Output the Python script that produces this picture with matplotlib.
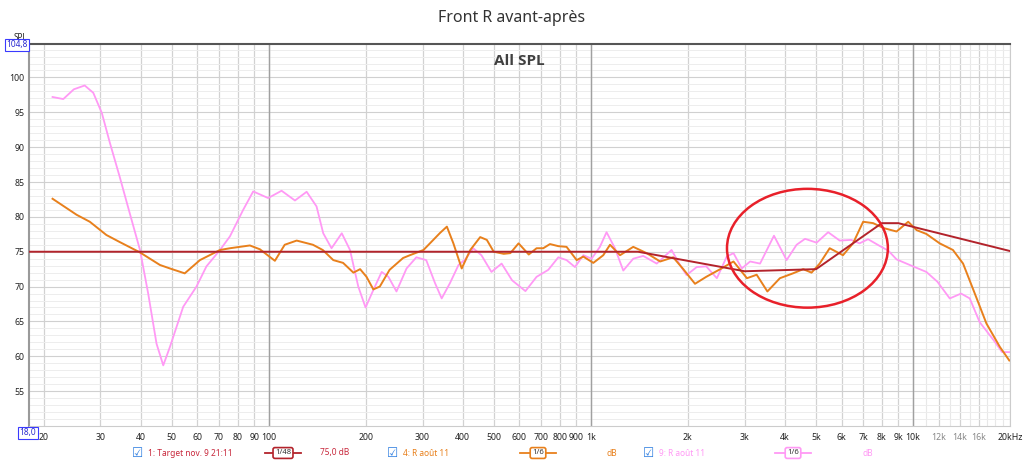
import matplotlib
matplotlib.use("Agg")
import matplotlib.pyplot as plt
from matplotlib.patches import Ellipse
from matplotlib.lines import Line2D

plt.rcParams['font.family'] = ['Noto Sans', 'DejaVu Sans']

# target curve (Hz, dB)
target_f = [18, 1400, 3000, 5000, 8000, 9000, 20000]
target_db = [75.0, 75.0, 72.2, 72.5, 79.1, 79.1, 75.1]

# R août 11, 1/6 smoothing (orange)
orange_f = [21.3, 25.3, 27.8, 31.3, 34.4, 39.8, 45.9, 49.3, 54.8, 61.1, 70.5, 75.7, 87.3, 93.8,
            104.4, 112, 122, 137, 147, 158.5, 170, 183, 192, 201, 211, 221, 237, 261, 274, 302,
            324, 340, 357, 374, 397, 422, 453, 475, 499, 536, 562, 596, 641, 678, 711, 746, 792,
            840, 903, 947, 1017, 1092, 1146, 1231, 1353, 1489, 1640, 1800, 1935, 2104, 2280,
            2520, 2770, 3050, 3270, 3530, 3860, 4240, 4560, 4840, 5130, 5510, 6060, 6510, 7000,
            7520, 8090, 8890, 9660, 10260, 11000, 12100, 13300, 14300, 15400, 16900, 18600, 19900]
orange_db = [82.6, 80.3, 79.3, 77.4, 76.4, 74.9, 73.1, 72.6, 71.9, 73.8, 75.25, 75.5, 75.9, 75.35,
             73.7, 76.0, 76.6, 76.0, 75.25, 73.8, 73.4, 72.0, 72.5, 71.4, 69.6, 70.0, 72.4, 74.1,
             74.5, 75.25, 76.7, 77.7, 78.6, 76.2, 72.6, 75.25, 77.1, 76.7, 75.0, 74.7, 74.8, 76.2,
             74.6, 75.5, 75.5, 76.1, 75.8, 75.7, 73.8, 74.3, 73.4, 74.5, 76.0, 74.5, 75.7, 74.8,
             73.6, 74.2, 72.5, 70.4, 71.4, 72.5, 73.6, 71.2, 71.7, 69.3, 71.2, 71.9, 72.5, 72.0,
             73.3, 75.5, 74.5, 76.2, 79.3, 79.1, 78.4, 77.9, 79.3, 78.1, 77.55, 76.2, 75.25, 73.3,
             69.5, 64.7, 61.35, 59.4]

# R août 11, 1/6 smoothing (pink)
pink_f = [21.3, 23.0, 24.8, 26.8, 28.5, 30.3, 32.1, 34.4, 37.0, 39.8, 42.2, 44.8, 47.0, 49.3,
          54.2, 59.6, 64.0, 70.5, 75.7, 83.2, 89.4, 99.5, 109.5, 120.5, 131, 140.6, 147.5, 156.5,
          168.4, 178.6, 189.5, 199.6, 211, 224, 235, 249, 267.6, 287, 308, 328, 344, 365, 388,
          407, 431, 457, 491, 528, 569, 626, 678, 737, 792, 840, 892, 947, 1005, 1066, 1118,
          1187, 1260, 1353, 1453, 1600, 1779, 1890, 1980, 2130, 2280, 2460, 2640, 2770, 2940,
          3120, 3350, 3700, 4050, 4350, 4620, 5020, 5450, 5920, 6430, 6820, 7250, 7900, 8380,
          8890, 10000, 11000, 11900, 13000, 14100, 15000, 16100, 17800, 18900, 19900]
pink_db = [97.2, 96.9, 98.3, 98.85, 97.8, 94.9, 90.6, 85.8, 80.5, 75.25, 69.0, 61.8, 58.7, 61.35,
           67.1, 70.0, 72.9, 75.25, 77.2, 81.0, 83.65, 82.7, 83.75, 82.35, 83.6, 81.5, 77.65,
           75.5, 77.65, 75.25, 70.0, 67.0, 69.5, 72.1, 71.4, 69.3, 72.6, 74.2, 73.8, 70.5, 68.3,
           70.5, 73.1, 73.9, 75.5, 74.5, 72.1, 73.3, 70.9, 69.35, 71.4, 72.4, 74.2, 73.8, 72.8,
           74.5, 74.0, 75.7, 77.8, 75.5, 72.3, 74.0, 74.4, 73.3, 75.25, 73.1, 71.65, 72.8, 72.9,
           71.2, 74.3, 74.8, 72.6, 73.6, 73.3, 77.3, 73.8, 76.0, 76.85, 76.3, 77.8, 76.6, 76.7,
           76.2, 76.8, 75.8, 75.15, 73.9, 72.9, 72.1, 70.7, 68.3, 69.0, 68.3, 64.9, 62.3, 60.6, 60.6]

xtick_pos = [20, 30, 40, 50, 60, 70, 80, 90, 100, 200, 300, 400, 500, 600, 700, 800, 900,
             1000, 2000, 3000, 4000, 5000, 6000, 7000, 8000, 9000, 10000, 12000, 14000, 16000, 20000]
xtick_lab = ['20', '30', '40', '50', '60', '70', '80', '90', '100', '200', '300', '400', '500',
             '600', '700', '800', '900', '1k', '2k', '3k', '4k', '5k', '6k', '7k', '8k', '9k',
             '10k', '12k', '14k', '16k', '20kHz']
xminor = [11000, 13000, 15000, 17000, 18000, 19000]
ytick_pos = [55, 60, 65, 70, 75, 80, 85, 90, 95, 100]

c_target = '#b3232b'
c_orange = '#e8801c'
c_pink = '#ff99f5'
c_txt_target = '#c8283c'

fig = plt.figure(figsize=(10.24, 4.62), dpi=100)
ax = fig.add_axes([29 / 1024, 1 - 426 / 462, 981 / 1024, 382 / 462])
ax.set_xscale('log')
ax.set_xlim(18, 20000)
ax.set_ylim(50, 104.8)

ax.set_xticks(xtick_pos, xtick_lab)
ax.set_xticks(xminor, minor=True)
ax.set_xticklabels([], minor=True)
ax.set_yticks(ytick_pos)
ax.set_yticks(range(51, 105), minor=True)
ax.tick_params(which='both', length=0, labelsize=6.3, colors='#222222')
ax.tick_params(axis='x', pad=5)
ax.tick_params(axis='y', pad=3)
for lab in ax.get_xticklabels():
    if lab.get_text() in ('12k', '14k', '16k'):
        lab.set_color('#888888')

ax.grid(which='major', axis='x', color='#d2d2d2', lw=0.9)
ax.grid(which='minor', axis='x', color='#e8e8e8', lw=0.8)
ax.grid(which='major', axis='y', color='#d0d0d0', lw=0.8)
ax.grid(which='minor', axis='y', color='#ededed', lw=0.7)
for d in (100, 1000, 10000):
    ax.axvline(d, color='#a0a0a0', lw=1.0, zorder=1)
ax.set_axisbelow(True)

for s in ('bottom', 'right'):
    ax.spines[s].set_color('#cccccc')
ax.spines['left'].set_color('#9a9a9a')
ax.spines['left'].set_linewidth(1.5)
ax.spines['top'].set_color('#555555')
ax.spines['top'].set_linewidth(1.5)

ax.plot(pink_f, pink_db, color=c_pink, lw=1.3, zorder=3)
ax.plot(orange_f, orange_db, color=c_orange, lw=1.4, zorder=4)
ax.plot(target_f, target_db, color=c_target, lw=1.4, zorder=5)

# highlight ellipse
fig.canvas.draw()
cx, cy = ax.transAxes.inverted().transform(ax.transData.transform((4700, 75.5)))
ax.add_patch(Ellipse((cx, cy), 0.164, 0.311, transform=ax.transAxes,
                     fill=False, edgecolor='#e8202a', lw=1.8, zorder=6))

ax.text(0.5, 0.975, 'All SPL', transform=ax.transAxes, ha='center', va='top',
        fontsize=11, fontweight='bold', color='#404040', family=['Open Sans', 'DejaVu Sans'])
fig.text(0.5, 1 - 18 / 462, 'Front R avant-après', ha='center', va='center',
         fontsize=11.5, color='#333333')

fig.text(20 / 1024, 1 - 37 / 462, 'SPL', ha='center', va='center', fontsize=6, color='#222222')
fig.text(17 / 1024, 1 - 45 / 462, '104,8', ha='center', va='center', fontsize=6, color='#2a2ad0',
         bbox=dict(boxstyle='square,pad=0.15', fc='white', ec='#3a3aff', lw=0.8))
fig.text(28 / 1024, 1 - 433 / 462, '18,0', ha='center', va='center', fontsize=6, color='#2a2ad0',
         bbox=dict(boxstyle='square,pad=0.15', fc='white', ec='#3a3aff', lw=0.8))

# legend row
ly = 1 - 453 / 462
entries = [
    (138, '1: Target nov. 9 21:11', c_txt_target, c_target, 265, '1/48', 335, '75,0 dB'),
    (393, '4: R août 11', c_orange, c_orange, 520, '1/6', 612, 'dB'),
    (649, '9: R août 11', c_pink, c_pink, 775, '1/6', 868, 'dB'),
]
for cbx, label, tcol, lcol, sx, frac, ux, unit in entries:
    fig.text(cbx / 1024, ly, '☑', ha='center', va='center', fontsize=9, color='#2f7fe0',
             family=['DejaVu Sans'])
    fig.text((cbx + 10) / 1024, ly, label, ha='left', va='center', fontsize=6, color=tcol)
    fig.add_artist(Line2D([sx / 1024, (sx + 36) / 1024], [ly, ly], color=lcol, lw=1.3,
                          transform=fig.transFigure))
    fig.text((sx + 18) / 1024, ly, frac, ha='center', va='center', fontsize=5.5, color='#333333',
             bbox=dict(boxstyle='round,pad=0.25', fc='white', ec=lcol, lw=1.2))
    fig.text(ux / 1024, ly, unit, ha='center', va='center', fontsize=6, color=tcol)

fig.savefig('out.png', dpi=100, facecolor='white')
